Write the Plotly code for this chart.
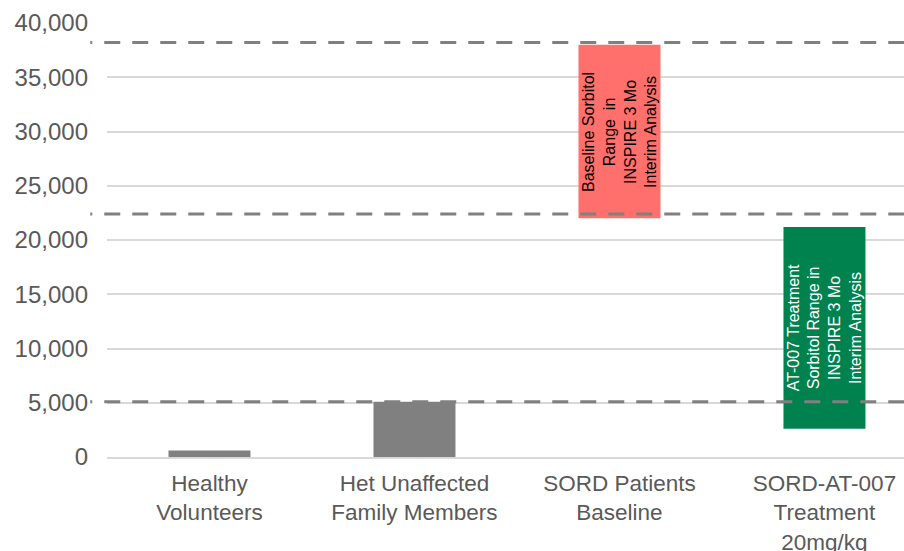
import plotly.graph_objects as go

# Sorbitol levels by group (floating bars: base -> top)
categories = [
    "Healthy<br>Volunteers",
    "Het Unaffected<br>Family Members",
    "SORD Patients<br>Baseline",
    "SORD-AT-007<br>Treatment<br>20mg/kg",
]
bar_base = [0, 0, 22000, 2600]
bar_top = [600, 5100, 38000, 21200]
bar_colors = ["#808080", "#808080", "#FF6F6B", "#00824F"]

# Reference range lines
ref_lines = [38200, 22400, 5100]

# Text inside the floating bars
range_labels = [
    (2, "Baseline Sorbitol<br>Range  in<br>INSPIRE 3 Mo<br>Interim Analysis", "#000000"),
    (3, "AT-007 Treatment<br>Sorbitol Range in<br>INSPIRE 3 Mo<br>Interim Analysis", "#FFFFFF"),
]

y_ticks = list(range(0, 40001, 5000))

x_pos = list(range(len(categories)))
fig = go.Figure()
fig.add_trace(go.Bar(
    x=x_pos,
    y=[t - b for t, b in zip(bar_top, bar_base)],
    base=bar_base,
    width=0.4,
    marker=dict(color=bar_colors, line=dict(width=0)),
    hoverinfo="skip",
))

FONT = "Liberation Sans, Arial, sans-serif"

dash = "2px,12px," + ",".join(["16px,12px"] * 34)
for v in ref_lines:
    fig.add_shape(
        type="line", xref="paper", yref="y",
        x0=-0.021, x1=1.0, y0=v, y1=v,
        line=dict(color="#808080", width=3, dash=dash),
        layer="above",
    )

for idx, txt, col in range_labels:
    fig.add_annotation(
        x=idx, y=(bar_base[idx] + bar_top[idx]) / 2,
        xref="x", yref="y",
        text=txt, textangle=-90, showarrow=False,
        font=dict(family=FONT, size=16, color=col),
        align="center",
    )

fig.update_layout(
    width=904, height=551,
    margin=dict(l=107, r=0, t=23, b=94),
    paper_bgcolor="white", plot_bgcolor="white",
    showlegend=False,
    bargap=0.6,
    font=dict(family=FONT, color="#595959"),
)
fig.update_xaxes(
    range=[-0.5, 3.388],
    tickmode="array", tickvals=x_pos, ticktext=categories,
    tickfont=dict(size=22.5, color="#595959", family=FONT),
    showgrid=False, zeroline=False,
    showline=True, linecolor="#d9d9d9", linewidth=2,
    ticks="", ticklabelstandoff=5, automargin=False,
)
fig.update_yaxes(
    range=[0, 40000],
    tickmode="array", tickvals=y_ticks,
    ticktext=[f"{v:,}" for v in y_ticks],
    tickfont=dict(size=24, color="#595959", family=FONT),
    showgrid=True, gridcolor="#d9d9d9", gridwidth=2,
    zeroline=False, showline=False,
    ticks="", ticklabelstandoff=18, automargin=False,
)

fig.write_html("out.html")
